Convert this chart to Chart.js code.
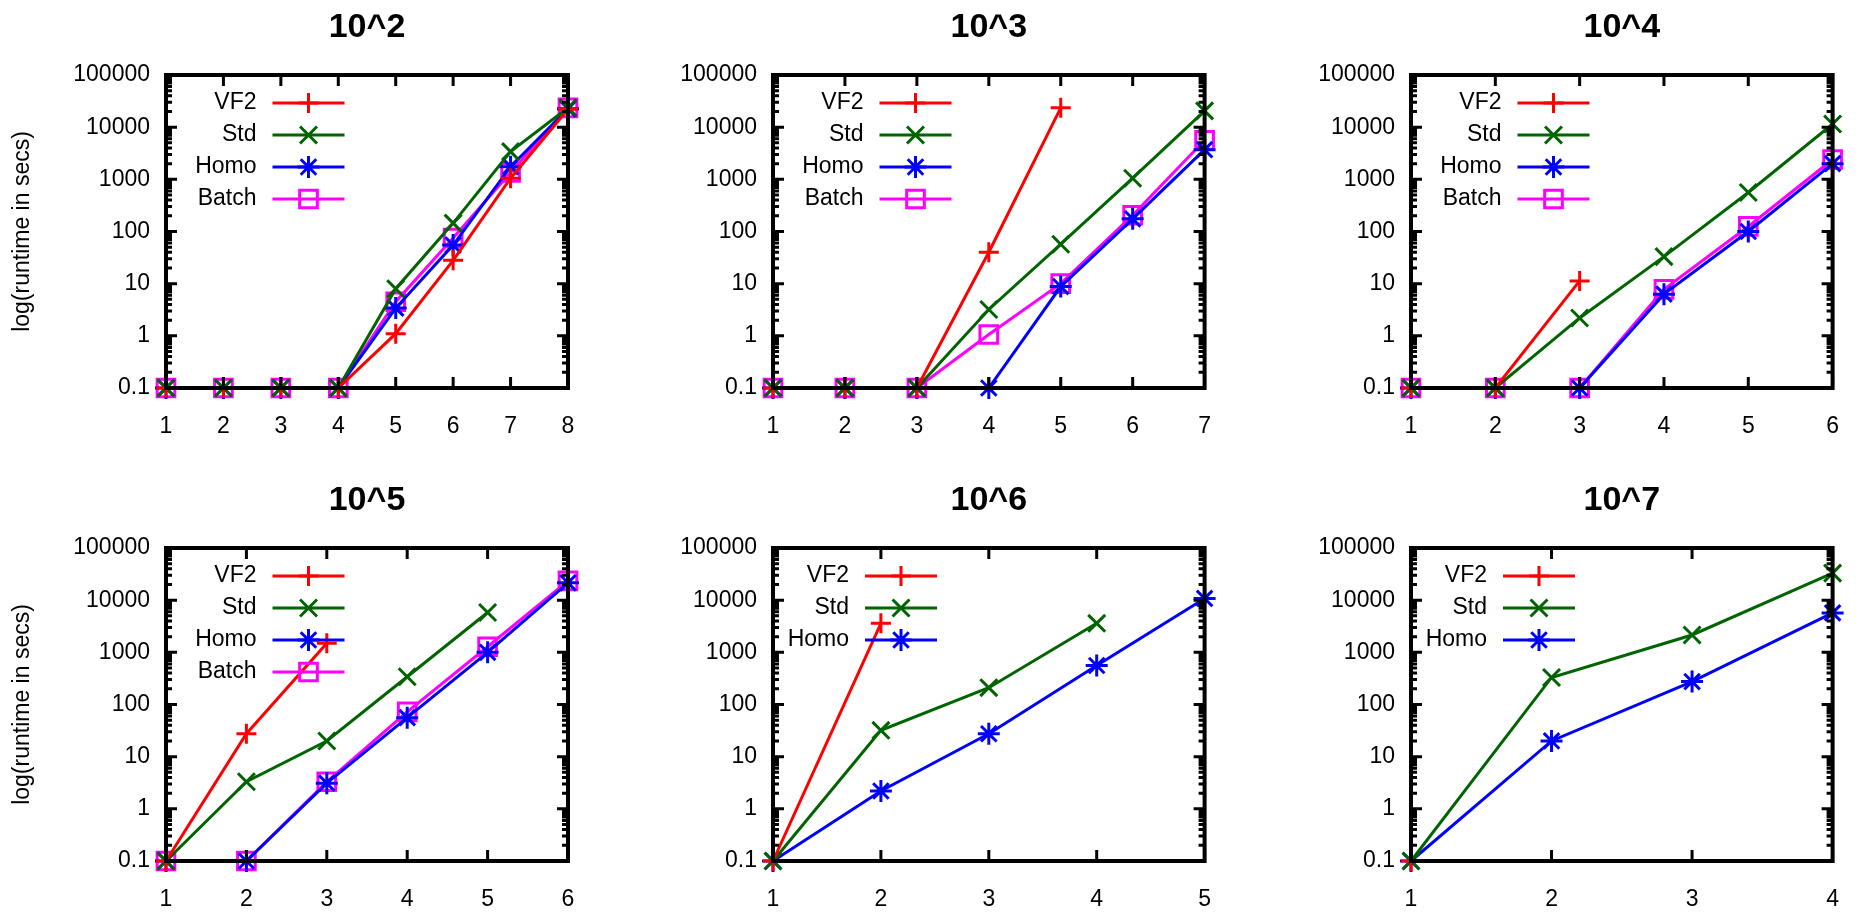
<!DOCTYPE html>
<html>
<head>
<meta charset="utf-8">
<title>runtime panels</title>
<script src="https://cdn.jsdelivr.net/npm/chart.js@4.4.1/dist/chart.umd.min.js"></script>
<style>
  body { margin: 0; background: #fff; width: 1864px; height: 915px; overflow: hidden; }
  .panel { position: absolute; }
</style>
</head>
<body>
<script>
// --- values (null = no run) ---
const titles = ['10^2', '10^3', '10^4', '10^5', '10^6', '10^7'];
const yTickValues = [0.1, 1, 10, 100, 1000, 10000, 100000];
const yTickLabels = ['0.1', '1', '10', '100', '1000', '10000', '100000'];
const yTitle = 'log(runtime in secs)';

// 10^2
const steps2 = [1, 2, 3, 4, 5, 6, 7, 8];
const vf2_2 = [0.1, 0.1, 0.1, 0.1, 1.1, 28, 1050, 22000];
const std_2 = [0.1, 0.1, 0.1, 0.1, 8, 145, 3400, 23500];
const homo_2 = [0.1, 0.1, 0.1, 0.1, 3.4, 55, 1750, 22500];
const batch_2 = [0.1, 0.1, 0.1, 0.1, 4.5, 75, 1350, 23500];

// 10^3
const steps3 = [1, 2, 3, 4, 5, 6, 7];
const vf2_3 = [0.1, 0.1, 0.1, 40, 23500, null, null];
const std_3 = [0.1, 0.1, 0.1, 3.2, 57, 1050, 20500];
const homo_3 = [0.1, 0.1, 0.1, 0.1, 8.8, 175, 3700];
const batch_3 = [0.1, 0.1, 0.1, 1.06, 10, 205, 5600];

// 10^4
const steps4 = [1, 2, 3, 4, 5, 6];
const vf2_4 = [0.1, 0.1, 11.3, null, null, null];
const std_4 = [0.1, 0.1, 2.2, 33, 560, 11500];
const homo_4 = [0.1, 0.1, 0.1, 6.3, 100, 2000];
const batch_4 = [0.1, 0.1, 0.1, 7.8, 125, 2400];

// 10^5
const steps5 = [1, 2, 3, 4, 5, 6];
const vf2_5 = [0.1, 27.5, 1500, null, null, null];
const std_5 = [0.1, 3.3, 20, 340, 5800, null];
const homo_5 = [0.1, 0.1, 3.1, 56, 1000, 21500];
const batch_5 = [0.1, 0.1, 3.3, 72, 1280, 23500];

// 10^6
const steps6 = [1, 2, 3, 4, 5];
const vf2_6 = [0.1, 3600, null, null, null];
const std_6 = [0.1, 32, 210, 3600, null];
const homo_6 = [0.1, 2.2, 27.5, 560, 10800];

// 10^7
const steps7 = [1, 2, 3, 4];
const vf2_7 = [0.1, null, null, null];
const std_7 = [0.1, 330, 2150, 33000];
const homo_7 = [0.1, 20, 275, 5700];

// --- look ---
const FONT = '"Liberation Sans", Arial, sans-serif';
const STYLE = {
  VF2:   { color: '#ff0000', pointStyle: 'cross',    radius: 10 },
  Std:   { color: '#006400', pointStyle: 'crossRot', radius: 12 },
  Homo:  { color: '#0000ff', pointStyle: 'star',     radius: 11 },
  Batch: { color: '#ff00ff', pointStyle: 'rect',     radius: 12.5 }
};

const cols = [
  { left: 0,    plotL: 166,  plotR: 568,  right: 600 },
  { left: 620,  plotL: 773,  plotR: 1206, right: 1236 },
  { left: 1240, plotL: 1411, plotR: 1843, right: 1864 }
];
const rows = [
  { top: 0,   plotT: 75,  plotB: 388, bottom: 450 },
  { top: 455, plotT: 548, plotB: 861, bottom: 915 }
];

const panels = [
  { steps: steps2, series: { VF2: vf2_2, Std: std_2, Homo: homo_2, Batch: batch_2 } },
  { steps: steps3, series: { VF2: vf2_3, Std: std_3, Homo: homo_3, Batch: batch_3 } },
  { steps: steps4, series: { VF2: vf2_4, Std: std_4, Homo: homo_4, Batch: batch_4 } },
  { steps: steps5, series: { VF2: vf2_5, Std: std_5, Homo: homo_5, Batch: batch_5 } },
  { steps: steps6, series: { VF2: vf2_6, Std: std_6, Homo: homo_6 } },
  { steps: steps7, series: { VF2: vf2_7, Std: std_7, Homo: homo_7 } }
];

function drawMarker(ctx, st, x, y) {
  ctx.strokeStyle = st.color;
  ctx.fillStyle = 'rgba(0,0,0,0)';
  ctx.lineWidth = 3;
  if (Chart.helpers && Chart.helpers.drawPoint) {
    Chart.helpers.drawPoint(ctx, { pointStyle: st.pointStyle, radius: st.radius, borderWidth: 3, rotation: 0 }, x, y);
    return;
  }
  const r = st.radius;
  ctx.beginPath();
  ctx.moveTo(x - r, y); ctx.lineTo(x + r, y);
  ctx.moveTo(x, y - r); ctx.lineTo(x, y + r);
  ctx.stroke();
}

// gnuplot-style frame, inward ticks, title and key
const gnuplotLook = {
  id: 'gnuplotLook',
  afterDatasetsDraw(chart, args, opts) {
    const { ctx, chartArea: a, scales: { x, y } } = chart;
    ctx.save();
    ctx.strokeStyle = '#000';
    ctx.lineWidth = 3;
    ctx.beginPath();
    yTickValues.forEach((dec, i) => {
      const py = y.getPixelForValue(dec);
      ctx.moveTo(a.left, py); ctx.lineTo(a.left + 11, py);
      ctx.moveTo(a.right, py); ctx.lineTo(a.right - 11, py);
      if (i === yTickValues.length - 1) return;
      for (let k = 2; k <= 9; k++) {
        const pm = y.getPixelForValue(dec * k);
        ctx.moveTo(a.left, pm); ctx.lineTo(a.left + 6, pm);
        ctx.moveTo(a.right, pm); ctx.lineTo(a.right - 6, pm);
      }
    });
    x.ticks.forEach(t => {
      const px = x.getPixelForValue(t.value);
      ctx.moveTo(px, a.bottom); ctx.lineTo(px, a.bottom - 11);
      ctx.moveTo(px, a.top); ctx.lineTo(px, a.top + 11);
    });
    ctx.stroke();
    ctx.lineWidth = 4;
    ctx.strokeRect(a.left, a.top, a.right - a.left, a.bottom - a.top);

    // title
    ctx.fillStyle = '#000';
    ctx.font = 'bold 34px ' + FONT;
    ctx.textAlign = 'center';
    ctx.textBaseline = 'middle';
    ctx.fillText(opts.title, (a.left + a.right) / 2, a.top - 47);

    // key
    const names = opts.names;
    const maxChars = Math.max(...names.map(n => n.length));
    const textRight = a.left + 18 + 14.5 * maxChars;
    ctx.font = '23px ' + FONT;
    ctx.textAlign = 'right';
    names.forEach((n, i) => {
      const st = STYLE[n];
      const ky = a.top + 28 + i * 32;
      ctx.fillStyle = '#000';
      ctx.fillText(n, textRight, ky);
      ctx.strokeStyle = st.color;
      ctx.lineWidth = 3;
      ctx.beginPath();
      ctx.moveTo(textRight + 16, ky);
      ctx.lineTo(textRight + 88, ky);
      ctx.stroke();
      drawMarker(ctx, st, textRight + 52, ky);
    });
    ctx.restore();
  }
};

panels.forEach((p, idx) => {
  const col = cols[idx % 3];
  const row = rows[Math.floor(idx / 3)];
  const box = document.createElement('div');
  box.className = 'panel';
  box.style.left = col.left + 'px';
  box.style.top = row.top + 'px';
  box.style.width = (col.right - col.left) + 'px';
  box.style.height = (row.bottom - row.top) + 'px';
  const canvas = document.createElement('canvas');
  box.appendChild(canvas);
  document.body.appendChild(box);

  const names = Object.keys(p.series);
  const datasets = names.map(n => ({
    label: n,
    data: p.steps.map((s, i) => ({ x: s, y: p.series[n][i] })),
    borderColor: STYLE[n].color,
    backgroundColor: 'rgba(0,0,0,0)',
    borderWidth: 3,
    pointStyle: STYLE[n].pointStyle,
    pointRadius: STYLE[n].radius,
    pointBorderWidth: 3,
    pointBorderColor: STYLE[n].color,
    pointBackgroundColor: 'rgba(0,0,0,0)',
    tension: 0,
    clip: false
  }));

  new Chart(canvas, {
    type: 'line',
    data: { datasets },
    plugins: [gnuplotLook],
    options: {
      responsive: true,
      maintainAspectRatio: false,
      animation: false,
      events: [],
      layout: { padding: { top: row.plotT - row.top, right: col.right - col.plotR, left: 0, bottom: 0 } },
      plugins: {
        legend: { display: false },
        tooltip: { enabled: false },
        gnuplotLook: { title: titles[idx], names }
      },
      scales: {
        x: {
          type: 'linear',
          min: 1,
          max: p.steps[p.steps.length - 1],
          grid: { display: false, drawTicks: false },
          border: { display: false },
          afterFit: s => { s.height = row.bottom - row.plotB; },
          ticks: {
            stepSize: 1, autoSkip: false, maxRotation: 0, padding: 25,
            color: '#000', font: { family: FONT, size: 23 },
            callback: v => p.steps.includes(v) ? String(v) : ''
          }
        },
        y: {
          type: 'logarithmic',
          min: yTickValues[0],
          max: yTickValues[yTickValues.length - 1],
          grid: { display: false, drawTicks: false },
          border: { display: false },
          afterFit: s => { s.width = col.plotL - col.left; },
          ticks: {
            autoSkip: false, padding: 16,
            color: '#000', font: { family: FONT, size: 23 },
            callback: v => {
              const i = yTickValues.findIndex(t => Math.abs(t - v) < t * 1e-6);
              return i >= 0 ? yTickLabels[i] : '';
            }
          },
          title: {
            display: idx % 3 === 0,
            text: yTitle,
            color: '#000',
            font: { family: FONT, size: 23 },
            padding: { top: 9, bottom: 0 }
          }
        }
      }
    }
  });
});
</script>
</body>
</html>
